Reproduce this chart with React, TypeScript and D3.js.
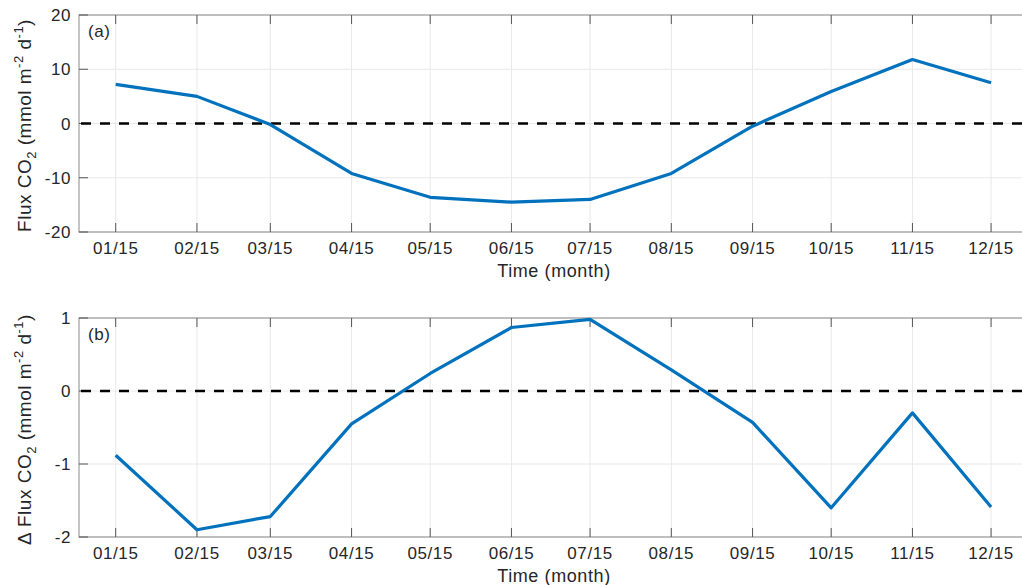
import React from "react";
import * as d3 from "d3";

const months = ["01/15", "02/15", "03/15", "04/15", "05/15", "06/15", "07/15", "08/15", "09/15", "10/15", "11/15", "12/15"];
const fluxCO2 = [7.2, 5.0, -0.2, -9.2, -13.6, -14.5, -14.0, -9.2, -0.5, 5.9, 11.8, 7.5];
const deltaFluxCO2 = [-0.88, -1.9, -1.72, -0.45, 0.24, 0.87, 0.98, 0.29, -0.43, -1.6, -0.3, -1.59];
const topTicks = [-20, -10, 0, 10, 20];
const bottomTicks = [-2, -1, 0, 1];

const W = 1022;
const H = 585;
const FONT = "'Liberation Sans', Arial, Helvetica, sans-serif";
const FS = 17;
const LS = 0.6;

const toDate = (m: string) => new Date(Date.UTC(2001, +m.slice(0, 2) - 1, +m.slice(3)));
const dates = months.map(toDate);

const x = d3.scaleUtc().domain([new Date(Date.UTC(2001, 0, 1)), new Date(Date.UTC(2001, 11, 31))]).range([79, 1033]);

type PanelProps = {
  values: number[];
  ticks: number[];
  domain: [number, number];
  top: number;
  bottom: number;
  tag: string;
  delta: boolean;
};

function Panel({ values, ticks, domain, top, bottom, tag, delta }: PanelProps) {
  const y = d3.scaleLinear().domain(domain).range([bottom, top]);
  const [x0, x1] = x.range();
  const line = d3
    .line<number>()
    .x((_, i) => x(dates[i]))
    .y((d) => y(d));
  const tickLen = 9;
  const labelY = (top + bottom) / 2 + 2;
  return (
    <g>
      {dates.map((d, i) => (
        <line key={"gx" + i} x1={x(d)} x2={x(d)} y1={top} y2={bottom} stroke="#e8e8e8" strokeWidth={1} />
      ))}
      {ticks.map((t, i) => (
        <line key={"gy" + i} x1={x0} x2={x1} y1={y(t)} y2={y(t)} stroke="#e8e8e8" strokeWidth={1} />
      ))}
      <rect x={x0} y={top} width={x1 - x0} height={bottom - top} fill="none" stroke="#8a8a8a" strokeWidth={1} />
      {dates.map((d, i) => (
        <g key={"tx" + i}>
          <line x1={x(d)} x2={x(d)} y1={bottom} y2={bottom - tickLen} stroke="#555" strokeWidth={1} />
          <line x1={x(d)} x2={x(d)} y1={top} y2={top + tickLen} stroke="#555" strokeWidth={1} />
          <text
            x={x(d)}
            y={bottom + 22}
            textAnchor="middle"
            fontFamily={FONT}
            fontSize={FS}
            letterSpacing={LS}
            fill="#262626"
          >
            {months[i]}
          </text>
        </g>
      ))}
      {ticks.map((t, i) => (
        <g key={"ty" + i}>
          <line x1={x0} x2={x0 + tickLen} y1={y(t)} y2={y(t)} stroke="#555" strokeWidth={1} />
          <text
            x={x0 - 8}
            y={y(t) + 6}
            textAnchor="end"
            fontFamily={FONT}
            fontSize={FS}
            letterSpacing={LS}
            fill="#262626"
          >
            {t}
          </text>
        </g>
      ))}
      <line x1={x0 + 2} x2={x1} y1={y(0)} y2={y(0)} stroke="#000" strokeWidth={2.5} strokeDasharray="10,9" />
      <path d={line(values) || ""} fill="none" stroke="#0072BD" strokeWidth={3.2} strokeLinejoin="round" />
      <text x={x0 + 9} y={top + 22} fontFamily={FONT} fontSize={FS} letterSpacing={LS} fill="#262626">
        {tag}
      </text>
      <text
        x={(x0 + x1) / 2 - 2}
        y={bottom + 45}
        textAnchor="middle"
        fontFamily={FONT}
        fontSize={FS + 1}
        letterSpacing={LS}
        fill="#262626"
      >
        Time (month)
      </text>
      <text
        transform={`translate(31, ${labelY}) rotate(-90)`}
        textAnchor="middle"
        fontFamily={FONT}
        fontSize={19}
        letterSpacing={0.5}
        fill="#262626"
      >
        {delta ? "Δ " : ""}Flux CO
        <tspan dy={5} fontSize={13}>2</tspan>
        <tspan dy={-5}> (mmol m</tspan>
        <tspan dy={-8} fontSize={13}>-2</tspan>
        <tspan dy={8}> d</tspan>
        <tspan dy={-8} fontSize={13}>-1</tspan>
        <tspan dy={8}>)</tspan>
      </text>
    </g>
  );
}

export default function App() {
  return (
    <svg
      width={W}
      height={H}
      viewBox={`0 0 ${W} ${H}`}
      style={{ position: "fixed", left: 0, top: 0, background: "#fff", overflow: "hidden" }}
    >
      <rect x={0} y={0} width={W} height={H} fill="#fff" />
      <Panel values={fluxCO2} ticks={topTicks} domain={[-20, 20]} top={15} bottom={232} tag="(a)" delta={false} />
      <Panel values={deltaFluxCO2} ticks={bottomTicks} domain={[-2, 1]} top={318} bottom={537} tag="(b)" delta={true} />
    </svg>
  );
}
